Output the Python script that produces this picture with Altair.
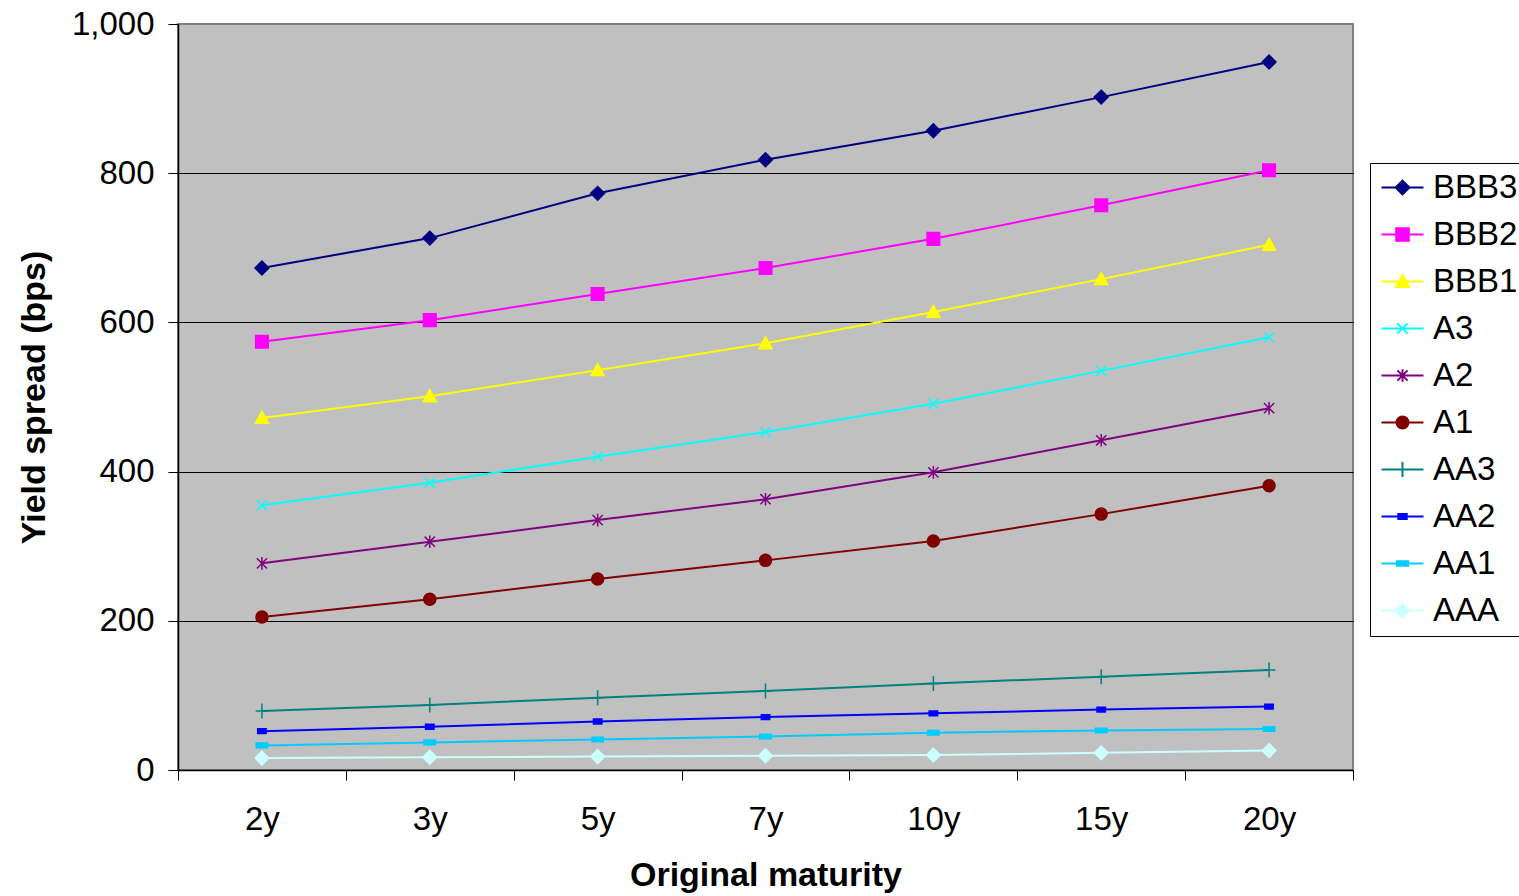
import altair as alt
import pandas as pd

maturities = ["2y", "3y", "5y", "7y", "10y", "15y", "20y"]
series_names = ["BBB3", "BBB2", "BBB1", "A3", "A2", "A1", "AA3", "AA2", "AA1", "AAA"]

bbb3 = [673, 713, 773, 818, 857, 902, 949]
bbb2 = [574, 603, 638, 673, 712, 757, 804]
bbb1 = [472, 501, 536, 572, 614, 658, 704]
a3 = [355, 385, 420, 453, 491, 535, 580]
a2 = [277, 306, 335, 363, 399, 442, 485]
a1 = [205, 229, 256, 281, 307, 343, 381]
aa3 = [79, 87, 97, 106, 116, 125, 134]
aa2 = [52, 58, 65, 71, 76, 81, 85]
aa1 = [33, 37, 41, 45, 50, 53, 55]
aaa = [16, 17, 18, 19, 20, 23, 26]

series_values = [bbb3, bbb2, bbb1, a3, a2, a1, aa3, aa2, aa1, aaa]

colors = ["#000080", "#FF00FF", "#FFFF00", "#00FFFF", "#800080",
          "#800000", "#008080", "#0000FF", "#00CCFF", "#CCFFFF"]

# marker shapes (unit coordinates, scaled by symbol size)
marker_paths = [
    "M0,-1.15L1.15,0L0,1.15L-1.15,0Z",                     # diamond
    "M-1.05,-1.05H1.05V1.05H-1.05Z",                       # square
    "M0,-1.1L1.1,0.9L-1.1,0.9Z",                           # triangle
    "M-0.85,-0.85L0.85,0.85M-0.85,0.85L0.85,-0.85",        # x
    "M-0.85,-0.85L0.85,0.85M-0.85,0.85L0.85,-0.85M0,-1.05V1.05",  # asterisk
    "M1,0A1,1,0,1,1,-1,0A1,1,0,1,1,1,0Z",                  # circle
    "M-1.05,0H1.05M0,-1.25V1.25",                          # plus
    "M-0.7,-0.4H0.7V0.4H-0.7Z",                            # small bar
    "M-0.95,-0.38H0.95V0.38H-0.95Z",                       # wide bar
    "M0,-1.15L1.15,0L0,1.15L-1.15,0Z",                     # diamond
]
legend_paths = ["M-3.5,0H3.5" + p for p in marker_paths]

rows = []
for name, vals in zip(series_names, series_values):
    for m, v in zip(maturities, vals):
        rows.append({"series": name, "maturity": m, "spread": v})
df = pd.DataFrame(rows)

FONT = "Liberation Sans"
LABEL_SIZE = 33
TITLE_SIZE = 34

x_enc = alt.X(
    "maturity:N",
    sort=maturities,
    scale=alt.Scale(type="band", paddingInner=0, paddingOuter=0),
    axis=alt.Axis(
        title="Original maturity",
        labelAngle=0,
        tickBand="extent",
        tickSize=10,
        tickColor="black",
        domainColor="black",
        domainWidth=1.5,
        labelFont=FONT,
        labelFontSize=LABEL_SIZE,
        labelColor="black",
        labelPadding=23,
        titleFont=FONT,
        titleFontSize=TITLE_SIZE,
        titleFontWeight="bold",
        titleColor="black",
        titlePadding=22,
        grid=False,
    ),
)
y_enc = alt.Y(
    "spread:Q",
    scale=alt.Scale(domain=[0, 1000], nice=False),
    axis=alt.Axis(
        title="Yield spread (bps)",
        values=[0, 200, 400, 600, 800, 1000],
        format=",.0f",
        grid=True,
        gridColor={"condition": {"test": "datum.value >= 1000", "value": "transparent"}, "value": "black"},
        gridWidth=1,
        tickSize=10,
        tickColor="black",
        domainColor="black",
        domainWidth=1.5,
        labelFont=FONT,
        labelFontSize=LABEL_SIZE,
        labelColor="black",
        labelPadding=14,
        titleFont=FONT,
        titleFontSize=TITLE_SIZE,
        titleFontWeight="bold",
        titleColor="black",
        titlePadding=20,
    ),
)

color_scale = alt.Scale(domain=series_names, range=colors)

base = alt.Chart(df)

lines = base.mark_line(strokeWidth=2).encode(
    x=x_enc,
    y=y_enc,
    color=alt.Color("series:N", scale=color_scale, legend=None),
    detail="series:N",
)

points = base.mark_point(filled=True, size=144, strokeWidth=1.5, opacity=1).encode(
    x=x_enc,
    y=y_enc,
    color=alt.Color("series:N", scale=color_scale, legend=None),
    stroke=alt.Stroke("series:N", scale=color_scale, legend=None),
    shape=alt.Shape("series:N", scale=alt.Scale(domain=series_names, range=marker_paths), legend=None),
)

leg = alt.Legend(
    title=None,
    orient="none",
    legendX=1192,
    legendY=139,
    strokeColor="black",
    fillColor="white",
    padding=8,
    rowPadding=13,
    symbolSize=144,
    symbolStrokeWidth=2,
    symbolOffset=8,
    labelOffset=14,
    labelFont=FONT,
    labelFontSize=LABEL_SIZE,
    labelColor="black",
    labelLimit=300,
    cornerRadius=0,
)

legend_layer = base.transform_filter("false").mark_point(filled=True, size=144, opacity=1).encode(
    x=x_enc,
    y=y_enc,
    color=alt.Color("series:N", scale=color_scale, legend=leg, sort=series_names),
    stroke=alt.Stroke("series:N", scale=color_scale, legend=leg, sort=series_names),
    shape=alt.Shape("series:N", scale=alt.Scale(domain=series_names, range=legend_paths), legend=leg, sort=series_names),
)

chart = (
    alt.layer(lines, points, legend_layer)
    .resolve_scale(color="independent", stroke="independent", shape="independent")
    .properties(
        width=1175,
        height=746,
        autosize=alt.AutoSizeParams(type="none"),
        padding={"left": 178, "top": 24, "right": 166, "bottom": 126},
        background="white",
    )
    .configure_view(fill="#C0C0C0", stroke="#808080", strokeWidth=2)
)

chart.save("out.html", embed_options={"renderer": "svg", "actions": False})
